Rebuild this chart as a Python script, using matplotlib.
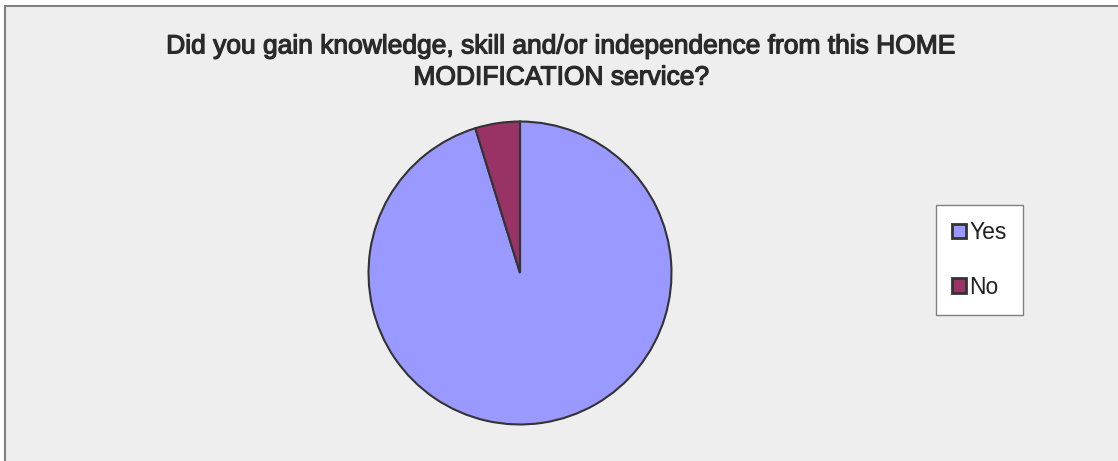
import matplotlib.pyplot as plt
import matplotlib.patches as patches
import matplotlib.patheffects as pe

labels = ['Yes', 'No']
counts = [20, 1]
colors = ['#9999FF', '#993366']
title = 'Did you gain knowledge, skill and/or independence from this HOME\nMODIFICATION service?'

plt.rcParams['font.family'] = ['Liberation Sans', 'DejaVu Sans']

W, H = 1118, 461
fig = plt.figure(figsize=(W / 100, H / 100), dpi=100)
fig.patch.set_facecolor('white')

# chart area background with gray border
bg = patches.Rectangle((5 / W, -0.01), 1.0, (H - 6.5) / H + 0.01,
                       transform=fig.transFigure, facecolor='#EEEEEE',
                       edgecolor='#808080', linewidth=1.5, zorder=0)
fig.add_artist(bg)

t = fig.text(561 / W, 1 - 62 / H, title, ha='center', va='center',
             fontsize=19, color='#2a2a2a', linespacing=1.38)
t.set_path_effects([pe.withStroke(linewidth=0.9, foreground='#2a2a2a')])

cx, cy, r = 520, H - 273, 153
ax = fig.add_axes([(cx - r) / W, (cy - r) / H, 2 * r / W, 2 * r / H])
wedges, _ = ax.pie(counts, colors=colors, startangle=90, counterclock=False,
                   wedgeprops=dict(edgecolor='#333333', linewidth=1.5))
ax.set_xlim(-1.01, 1.01)
ax.set_ylim(-1.01, 1.01)
ax.axis('off')

leg = fig.legend(wedges, labels, loc='center',
                 bbox_to_anchor=(979.5 / W, 1 - 260 / H),
                 fontsize=16.5, frameon=True, fancybox=False,
                 handlelength=0.6, handleheight=0.6, handletextpad=0.15,
                 labelspacing=1.38, borderpad=0.72, borderaxespad=0)
leg.get_frame().set_edgecolor('#808080')
leg.get_frame().set_facecolor('white')
leg.get_frame().set_alpha(1)
leg.get_frame().set_linewidth(1.0)
for txt in leg.get_texts():
    txt.set_color('#222222')
for h in leg.legend_handles:
    h.set_linewidth(2)

fig.savefig('out.png', dpi=100)
